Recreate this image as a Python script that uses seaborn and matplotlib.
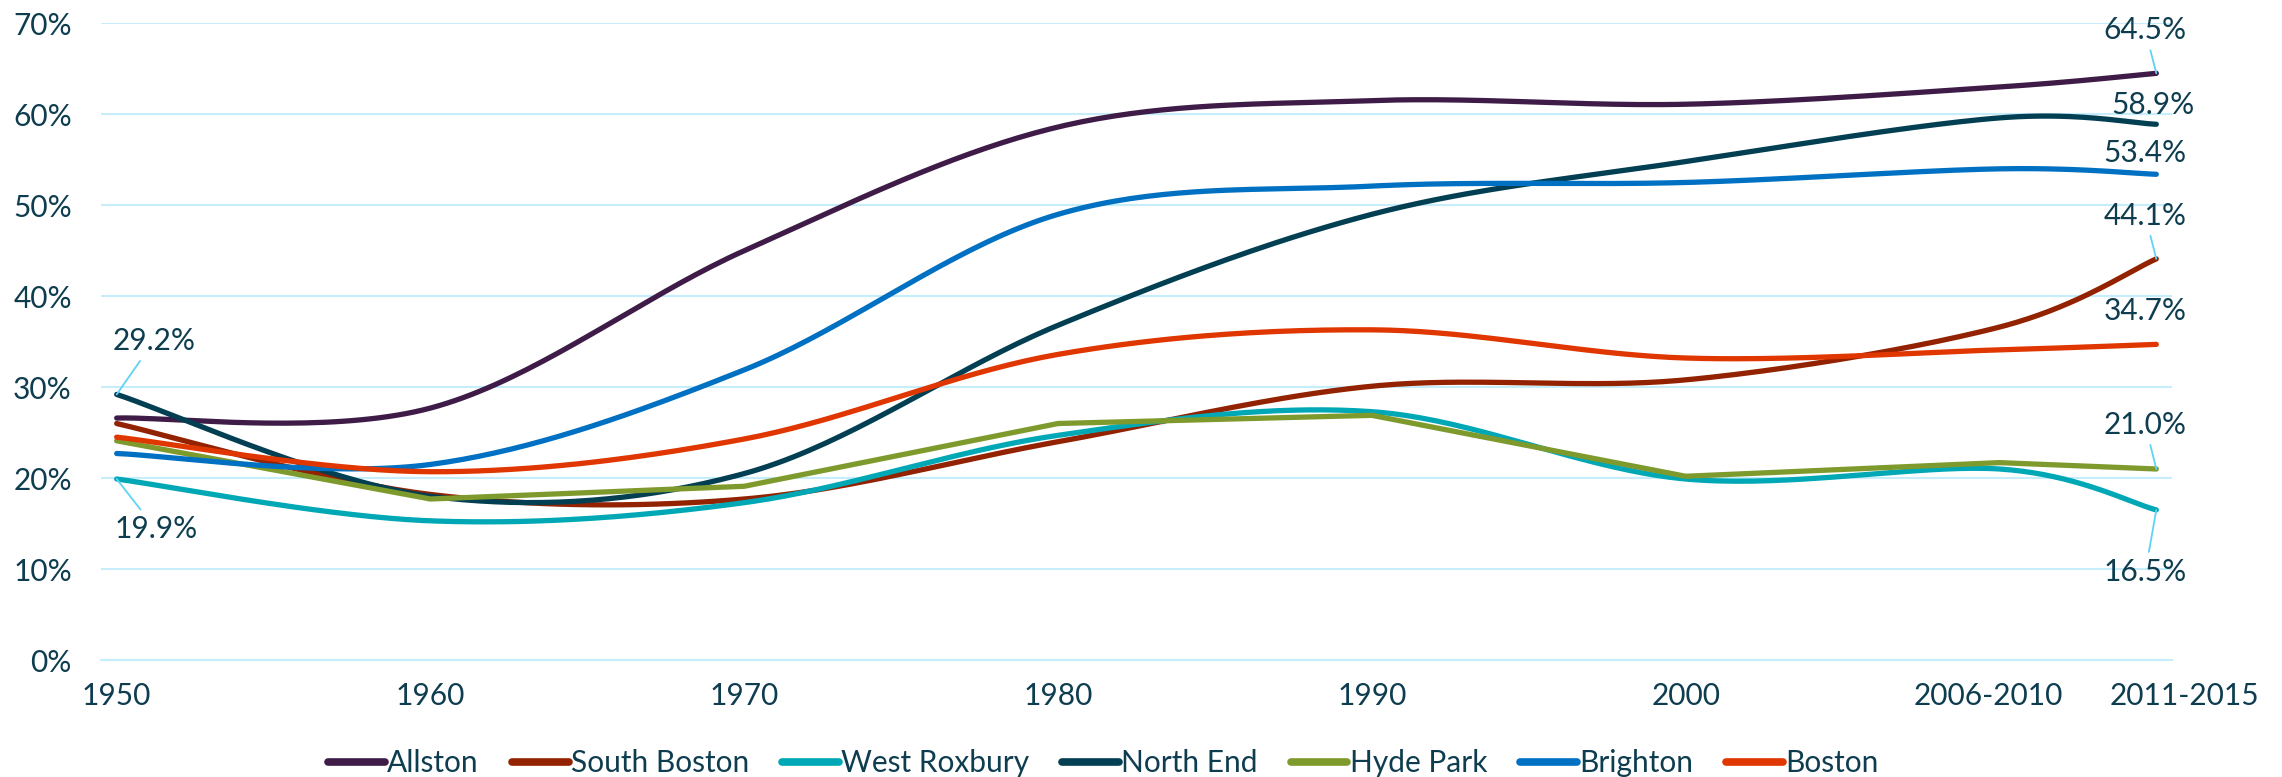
import numpy as np
import pandas as pd
import seaborn as sns
import matplotlib.pyplot as plt
import matplotlib.transforms as mtransforms
from matplotlib.ticker import FuncFormatter

# --- data (share, in %) ---
years = [1950, 1960, 1970, 1980, 1990, 2000, 2010, 2015]
year_labels = ["1950", "1960", "1970", "1980", "1990", "2000", "2006-2010", "2011-2015"]

allston = [26.6, 27.7, 45.0, 58.6, 61.5, 61.1, 63.0, 64.5]
south_boston = [26.0, 18.2, 17.7, 24.0, 30.1, 30.8, 36.6, 44.1]
west_roxbury = [19.9, 15.3, 17.3, 24.7, 27.3, 19.9, 21.0, 16.5]
north_end = [29.2, 18.0, 20.5, 36.8, 49.0, 54.8, 59.6, 58.9]
hyde_park = [24.1, 17.7, 19.1, 26.0, 26.9, 20.2, 21.7, 21.0]
brighton = [22.7, 21.5, 31.9, 49.0, 52.1, 52.5, 54.0, 53.4]
boston = [24.5, 20.7, 24.3, 33.6, 36.3, 33.2, 34.1, 34.7]

series = {
    "Allston": allston,
    "South Boston": south_boston,
    "West Roxbury": west_roxbury,
    "North End": north_end,
    "Hyde Park": hyde_park,
    "Brighton": brighton,
    "Boston": boston,
}
colors = {
    "Allston": "#3e1c47",
    "South Boston": "#922200",
    "West Roxbury": "#00a8b6",
    "North End": "#033f52",
    "Hyde Park": "#7f9a2c",
    "Brighton": "#0071c2",
    "Boston": "#e03600",
}
straight = ["Hyde Park"]  # drawn without smoothing

TEXT = "#0e3d50"
GRID = "#c6edfb"
LEADER = "#5fd3f5"
FS = 21.5


def smooth(xs, ys, n=40):
    # bezier smoothing like a spreadsheet "smoothed line"
    p = np.column_stack([xs, ys]).astype(float)
    p = np.vstack([p[0], p, p[-1]])
    out = []
    t = np.linspace(0, 1, n)[:, None]
    for i in range(1, len(p) - 2):
        p0, p3 = p[i], p[i + 1]
        c1 = p0 + (p[i + 1] - p[i - 1]) / 6
        c2 = p3 - (p[i + 2] - p[i]) / 6
        seg = (1 - t) ** 3 * p0 + 3 * (1 - t) ** 2 * t * c1 + 3 * (1 - t) * t ** 2 * c2 + t ** 3 * p3
        out.append(seg if i == 1 else seg[1:])
    out = np.vstack(out)
    return out[:, 0], out[:, 1]


rows = []
for name, vals in series.items():
    if name in straight:
        sx, sy = np.array(years, float), np.array(vals, float)
    else:
        sx, sy = smooth(years, vals)
    for i, (a, b) in enumerate(zip(sx, sy)):
        rows.append({"order": i, "x": a, "y": b, "series": name})
df = pd.DataFrame(rows)

sns.set_theme(style="white")
plt.rcParams["font.family"] = ["Lato", "DejaVu Sans"]
plt.rcParams["lines.solid_capstyle"] = "round"

fig = plt.figure(figsize=(22.82, 7.77), dpi=100)
ax = fig.add_axes([101 / 2282, 1 - 660 / 777, (2172 - 101) / 2282, (660 - 23.3) / 777])

sns.lineplot(data=df, x="x", y="y", hue="series", palette=colors, hue_order=list(series),
             sort=False, estimator=None, linewidth=3.8, ax=ax)

ax.set_xlim(1949.5, 2015.5)
ax.set_ylim(0, 70)
ax.set_yticks(range(0, 71, 10))
ax.yaxis.set_major_formatter(FuncFormatter(lambda v, _: f"{v:.0f}%"))
ax.set_xticks(years)
ax.set_xticklabels(year_labels)
ax.set_xticks([y - 0.5 for y in years[:-1]], minor=True)
ax.tick_params(axis="x", which="major", length=0, pad=16, labelsize=FS, labelcolor=TEXT)
ax.tick_params(axis="x", which="minor", length=8, width=1.5, color=GRID)
ax.tick_params(axis="y", length=0, pad=21, labelsize=FS, labelcolor=TEXT)
ax.set_xlabel("")
ax.set_ylabel("")
ax.grid(axis="y", color=GRID, linewidth=1.5)
ax.set_axisbelow(True)
for s in ["top", "right", "left"]:
    ax.spines[s].set_visible(False)
ax.spines["bottom"].set_color(GRID)
ax.spines["bottom"].set_linewidth(1.5)

# the last two labels are nudged apart so they don't collide
xt = ax.get_xticklabels()
for lab, shift in [(xt[-2], -11), (xt[-1], 28)]:
    lab.set_transform(lab.get_transform() + mtransforms.ScaledTranslation(shift / 100, 0, fig.dpi_scale_trans))

# data labels: (series, index, dx px, dy px, leader?)
labels = [
    ("North End", 0, 37, 53, True),
    ("West Roxbury", 0, 39, -50, True),
    ("Allston", 7, -11, 43, True),
    ("North End", 7, -3, 19, False),
    ("Brighton", 7, -11, 21, False),
    ("South Boston", 7, -11, 43, True),
    ("Boston", 7, -11, 33, False),
    ("Hyde Park", 7, -11, 44, True),
    ("West Roxbury", 7, -11, -62, True),
]
for name, i, dx, dy, lead in labels:
    v = series[name][i]
    ap = dict(arrowstyle="-", color=LEADER, lw=1.3, shrinkA=2, shrinkB=0) if lead else None
    ax.annotate(f"{v:.1f}%", xy=(years[i], v), xytext=(dx * 0.72, dy * 0.72),
                textcoords="offset points", ha="center", va="center",
                fontsize=FS, color=TEXT, arrowprops=ap, zorder=5)

sns.move_legend(ax, "center", bbox_to_anchor=(0.484, -0.162), ncol=7, frameon=False,
                title=None, fontsize=FS, handlelength=1.9, handletextpad=0.08,
                columnspacing=1.1, labelcolor=TEXT)
for line in ax.get_legend().get_lines():
    line.set_linewidth(5.5)

fig.savefig("out.png", dpi=100)
